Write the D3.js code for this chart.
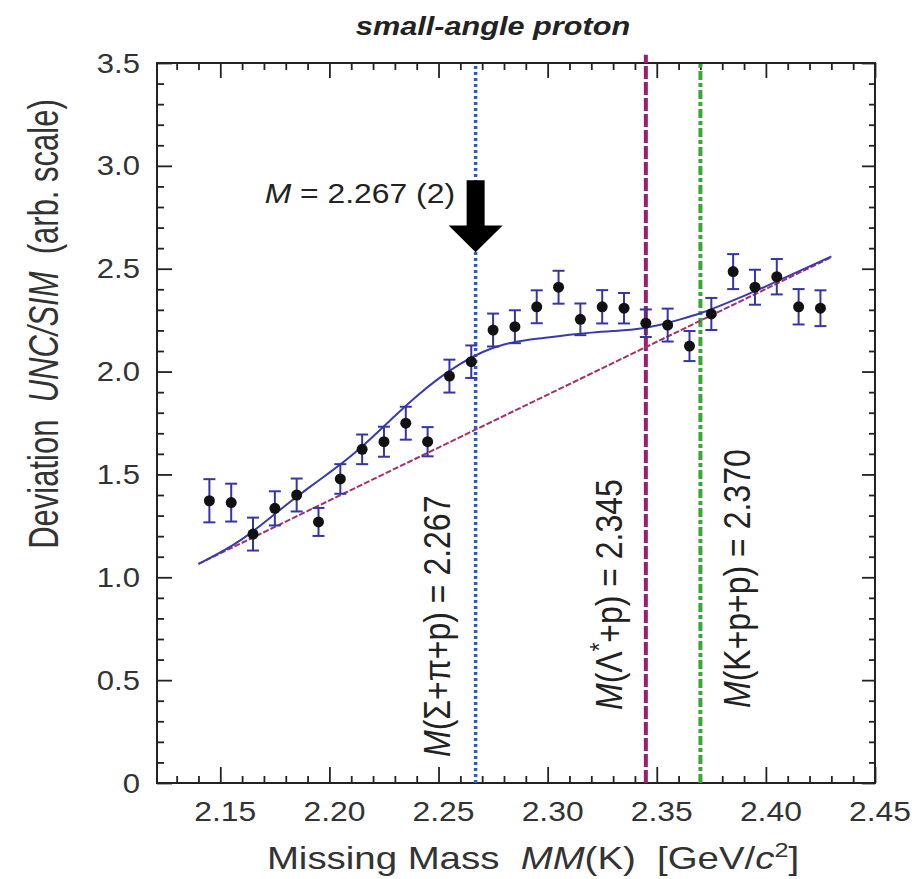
<!DOCTYPE html>
<html><head><meta charset="utf-8">
<script src="https://cdn.jsdelivr.net/npm/d3@7"></script>
<style>body{margin:0;background:#fff} svg{display:block}</style>
</head><body>
<svg id="c" width="915" height="879"></svg>
<script>
// ---- data ----
const massX = [2.145,2.155,2.165,2.175,2.185,2.195,2.205,2.215,2.225,2.235,2.245,2.255,2.265,2.275,2.285,2.295,2.305,2.315,2.325,2.335,2.345,2.355,2.365,2.375,2.385,2.395,2.405,2.415,2.425];
const deviation = [1.372,1.363,1.210,1.335,1.400,1.269,1.478,1.622,1.659,1.749,1.659,1.978,2.048,2.202,2.218,2.315,2.410,2.254,2.315,2.308,2.235,2.226,2.124,2.280,2.486,2.410,2.461,2.315,2.308];
const errors = [0.105,0.092,0.080,0.083,0.080,0.068,0.072,0.072,0.073,0.080,0.071,0.080,0.079,0.080,0.080,0.080,0.080,0.077,0.081,0.074,0.067,0.080,0.073,0.078,0.085,0.085,0.086,0.086,0.087];
const fitX = [2.14,2.15,2.16,2.17,2.18,2.19,2.20,2.21,2.22,2.23,2.24,2.25,2.26,2.27,2.28,2.29,2.30,2.31,2.32,2.33,2.34,2.35,2.36,2.37,2.38,2.39,2.40,2.41,2.42,2.43];
const fitY = [1.065,1.119,1.183,1.264,1.351,1.432,1.508,1.588,1.683,1.785,1.882,1.968,2.040,2.097,2.135,2.154,2.165,2.179,2.190,2.197,2.203,2.222,2.251,2.282,2.324,2.368,2.414,2.463,2.511,2.560];
const bgX = [2.14, 2.43];
const bgY = [1.065, 2.556];
const xMajorTicks = [2.15,2.20,2.25,2.30,2.35,2.40,2.45];
const xTickLabels = ["2.15","2.20","2.25","2.30","2.35","2.40","2.45"];
const xMinorTicks = [2.13,2.14,2.16,2.17,2.18,2.19,2.21,2.22,2.23,2.24,2.26,2.27,2.28,2.29,2.31,2.32,2.33,2.34,2.36,2.37,2.38,2.39,2.41,2.42,2.43,2.44];
const yMajorTicks = [0,0.5,1.0,1.5,2.0,2.5,3.0,3.5];
const yTickLabels = ["0","0.5","1.0","1.5","2.0","2.5","3.0","3.5"];
const yMinorTicks = [0.1,0.2,0.3,0.4,0.6,0.7,0.8,0.9,1.1,1.2,1.3,1.4,1.6,1.7,1.8,1.9,2.1,2.2,2.3,2.4,2.6,2.7,2.8,2.9,3.1,3.2,3.3,3.4];
const thresholdMass = [2.267, 2.345, 2.370];
const thresholdTop = [3.5, 3.54, 3.5];
const arrowMass = 2.267, arrowTop = 2.93, arrowHeadBase = 2.71, arrowTip = 2.58;

// ---- drawing ----
const FONT = "'Liberation Sans', Arial, Helvetica, sans-serif";
const S = 1.15; // horizontal stretch of glyphs in the original figure
const svg = d3.select("#c");
const x = d3.scaleLinear().domain([2.121, 2.45]).range([157, 875]);
const y = d3.scaleLinear().domain([0, 3.5]).range([783, 63]);
const L = 157, R = 875, T = 63, B = 783;

function ticks(axisFn, scale, vals, size, tr) {
  const g = svg.append("g").attr("transform", tr)
    .call(axisFn(scale).tickValues(vals).tickSize(size).tickFormat(""));
  g.select(".domain").remove();
  g.selectAll("line").attr("stroke", "#222").attr("stroke-width", 1.8);
}
ticks(d3.axisBottom, x, xMinorTicks, -7, `translate(0,${B})`);
ticks(d3.axisBottom, x, xMajorTicks, -16, `translate(0,${B})`);
ticks(d3.axisTop, x, xMinorTicks, -7, `translate(0,${T})`);
ticks(d3.axisTop, x, xMajorTicks, -15, `translate(0,${T})`);
ticks(d3.axisLeft, y, yMinorTicks, -7, `translate(${L},0)`);
ticks(d3.axisLeft, y, yMajorTicks, -15, `translate(${L},0)`);
ticks(d3.axisRight, y, yMinorTicks, -6, `translate(${R},0)`);
ticks(d3.axisRight, y, yMajorTicks, -13, `translate(${R},0)`);

svg.append("rect").attr("x", L).attr("y", T).attr("width", R - L).attr("height", B - T)
  .attr("fill", "none").attr("stroke", "#222").attr("stroke-width", 2);

// tick labels
svg.append("g").selectAll("text").data(xMajorTicks).join("text")
  .attr("transform", d => `translate(${x(d) + 5},821) scale(1.18,1)`)
  .attr("text-anchor", "middle").attr("font-family", FONT).attr("font-size", 27)
  .attr("fill", "#333").text((d, i) => xTickLabels[i]);
svg.append("g").selectAll("text").data(yMajorTicks).join("text")
  .attr("transform", d => `translate(140,${y(d) + 9.5}) scale(${S},1)`)
  .attr("text-anchor", "end").attr("font-family", FONT).attr("font-size", 27)
  .attr("fill", "#333").text((d, i) => yTickLabels[i]);

// threshold lines
const thrStyle = [
  {c: "#2e5cc6", w: 3.5, dash: "3,3"},
  {c: "#9a1e6e", w: 4, dash: "13,3"},
  {c: "#3aa635", w: 4, dash: "9,3,4,3"}
];
svg.append("g").selectAll("line").data(thresholdMass).join("line")
  .attr("x1", d => x(d)).attr("x2", d => x(d))
  .attr("y1", B).attr("y2", (d, i) => y(thresholdTop[i]))
  .attr("stroke", (d, i) => thrStyle[i].c).attr("stroke-width", (d, i) => thrStyle[i].w)
  .attr("stroke-dasharray", (d, i) => thrStyle[i].dash);

// background line
svg.append("path").datum(bgX.map((d, i) => [d, bgY[i]]))
  .attr("d", d3.line().x(d => x(d[0])).y(d => y(d[1])))
  .attr("fill", "none").attr("stroke", "#a3306f").attr("stroke-width", 2).attr("stroke-dasharray", "6,2");
// fit curve
svg.append("path").datum(fitX.map((d, i) => [d, fitY[i]]))
  .attr("d", d3.line().x(d => x(d[0])).y(d => y(d[1])).curve(d3.curveBasis))
  .attr("fill", "none").attr("stroke", "#3a3ab0").attr("stroke-width", 2);

// error bars
const eb = svg.append("g").attr("stroke", "#3535a8").attr("stroke-width", 2);
massX.forEach((m, i) => {
  const cx = x(m), y1 = y(deviation[i] + errors[i]), y2 = y(deviation[i] - errors[i]);
  eb.append("line").attr("x1", cx).attr("x2", cx).attr("y1", y1).attr("y2", y2);
  eb.append("line").attr("x1", cx - 6).attr("x2", cx + 6).attr("y1", y1).attr("y2", y1);
  eb.append("line").attr("x1", cx - 6).attr("x2", cx + 6).attr("y1", y2).attr("y2", y2);
});
svg.append("g").selectAll("circle").data(massX).join("circle")
  .attr("cx", d => x(d)).attr("cy", (d, i) => y(deviation[i])).attr("r", 5.5).attr("fill", "#111");

// arrow
const ax = x(arrowMass);
svg.append("path").attr("fill", "#000").attr("d",
  `M${ax - 9},${y(arrowTop)} L${ax + 9},${y(arrowTop)} L${ax + 9},${y(arrowHeadBase)} L${ax + 27},${y(arrowHeadBase)}` +
  ` L${ax},${y(arrowTip)} L${ax - 27},${y(arrowHeadBase)} L${ax - 9},${y(arrowHeadBase)} Z`);
const mt = svg.append("text").attr("transform", `translate(455,203) scale(1.18,1)`)
  .attr("text-anchor", "end").attr("font-family", FONT).attr("font-size", 27).attr("fill", "#222");
mt.append("tspan").attr("font-style", "italic").text("M");
mt.append("tspan").text(" = 2.267 (2)");

// rotated threshold labels
function rotLabel(bx, sy, parts) {
  const t = svg.append("text").attr("transform", `translate(${bx},${sy}) scale(${S},1) rotate(-90)`)
    .attr("font-family", FONT).attr("font-size", 32).attr("fill", "#222");
  parts.forEach(p => {
    const s = t.append("tspan").text(p.t);
    if (p.i) s.attr("font-style", "italic");
    if (p.sup) s.attr("baseline-shift", "super").attr("font-size", 22);
  });
}
rotLabel(450, 757, [{t: "M", i: 1}, {t: "(Σ+π+p) = 2.267"}]);
rotLabel(622, 710, [{t: "M", i: 1}, {t: "(Λ"}, {t: "*", sup: 1}, {t: "+p) = 2.345"}]);
rotLabel(750, 708, [{t: "M", i: 1}, {t: "(K+p+p) = 2.370"}]);

// title
svg.append("text").attr("transform", `translate(493,35) scale(1.18,1)`)
  .attr("text-anchor", "middle").attr("font-family", FONT).attr("font-size", 26)
  .attr("font-weight", "bold").attr("font-style", "italic").attr("fill", "#222").text("small-angle proton");

// axis titles
const xt = svg.append("text").attr("transform", `translate(533,869) scale(1.2,1)`)
  .attr("text-anchor", "middle").attr("font-family", FONT).attr("font-size", 32).attr("fill", "#333")
  .attr("xml:space", "preserve");
xt.append("tspan").text("Missing Mass  ");
xt.append("tspan").attr("font-style", "italic").text("MM");
xt.append("tspan").text("(K)  [GeV/");
xt.append("tspan").attr("font-style", "italic").text("c");
xt.append("tspan").attr("baseline-shift", "super").attr("font-size", 21).text("2");
xt.append("tspan").text("]");

const yt = svg.append("text").attr("transform", `translate(58,324) scale(1.4,1) rotate(-90)`)
  .attr("text-anchor", "middle").attr("font-family", FONT).attr("font-size", 31).attr("fill", "#333")
  .attr("xml:space", "preserve");
yt.append("tspan").text("Deviation  ");
yt.append("tspan").attr("font-style", "italic").text("UNC/SIM");
yt.append("tspan").text("  (arb. scale)");
</script>
</body></html>
